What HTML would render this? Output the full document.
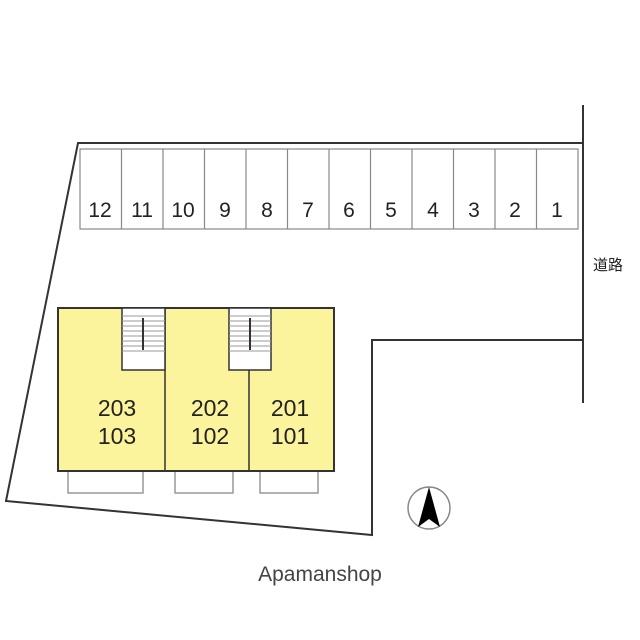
<!DOCTYPE html>
<html><head><meta charset="utf-8"><style>body{margin:0;background:#fff}svg{display:block}</style></head><body>
<svg width="640" height="640" viewBox="0 0 640 640" xmlns="http://www.w3.org/2000/svg">
<rect width="640" height="640" fill="#fff"/>
<g fill="none" stroke="#333" stroke-width="2">
<polyline points="583,143 78,143 6,501 372,535 372,340 583,340"/>
<line x1="583" y1="105" x2="583" y2="403"/>
</g>
<g fill="#fff" stroke="#888" stroke-width="1.2">
<rect x="80" y="149" width="498" height="80"/>
<path d="M121.5,149V229M163,149V229M204.5,149V229M246,149V229M287.5,149V229M329,149V229M370.5,149V229M412,149V229M453.5,149V229M495,149V229M536.5,149V229"/>
</g>
<g font-family="Liberation Sans, sans-serif" font-size="21" fill="#222" text-anchor="middle">
<text x="100" y="217">12</text><text x="142" y="217">11</text><text x="183" y="217">10</text><text x="225" y="217">9</text><text x="267" y="217">8</text><text x="308" y="217">7</text><text x="349" y="217">6</text><text x="391" y="217">5</text><text x="433" y="217">4</text><text x="474" y="217">3</text><text x="515" y="217">2</text><text x="557" y="217">1</text>
</g>
<text x="608" y="270" font-family="Liberation Sans, 'Noto Sans CJK JP', sans-serif" font-size="15" fill="#222" text-anchor="middle">道路</text>
<g fill="#fff" stroke="#999" stroke-width="1.5">
<rect x="68" y="471" width="75" height="22"/>
<rect x="175" y="471" width="58" height="22"/>
<rect x="260" y="471" width="58" height="22"/>
</g>
<rect x="58" y="308" width="276" height="163" fill="#fbf49c" stroke="#333" stroke-width="2"/>
<g stroke="#333" stroke-width="1.5">
<line x1="165" y1="308" x2="165" y2="471"/>
<line x1="249" y1="370" x2="249" y2="471"/>
</g>
<g fill="#fff" stroke="#333" stroke-width="1.5">
<rect x="122" y="308" width="43" height="62"/>
<rect x="229" y="308" width="42" height="62"/>
</g>
<g stroke="#999" stroke-width="1">
<path d="M122,316H165M122,321H165M122,326H165M122,331H165M122,336H165M122,341H165M122,346H165M122,351H165"/>
<path d="M229,316H271M229,321H271M229,326H271M229,331H271M229,336H271M229,341H271M229,346H271M229,351H271"/>
</g>
<g stroke="#333" stroke-width="2"><line x1="143" y1="318" x2="143" y2="350"/><line x1="250" y1="318" x2="250" y2="350"/></g>
<g font-family="Liberation Sans, sans-serif" font-size="23" fill="#222" text-anchor="middle">
<text x="117" y="416">203</text><text x="117" y="444">103</text>
<text x="210" y="416">202</text><text x="210" y="444">102</text>
<text x="290" y="416">201</text><text x="290" y="444">101</text>
</g>
<circle cx="429" cy="508" r="21" fill="#fff" stroke="#888" stroke-width="1.5"/>
<path d="M429,487 L440,527 L429,519 L418,527 Z" fill="#000"/>
<text x="320" y="581" font-family="Liberation Sans, sans-serif" font-size="21" fill="#444" text-anchor="middle">Apamanshop</text>
</svg>
</body></html>
